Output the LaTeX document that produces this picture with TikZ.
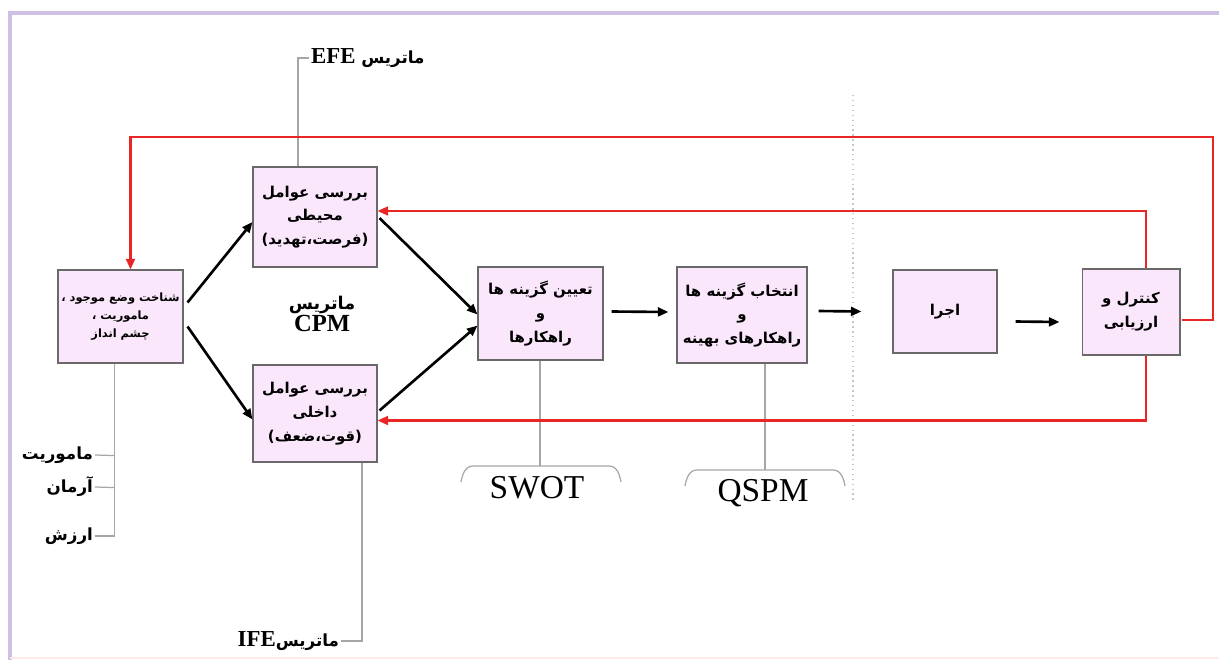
\documentclass[tikz,border=0pt]{standalone}
\usepackage{fontspec}
\setmainfont{Liberation Serif}
\newfontfamily\farsi[Script=Arabic]{DejaVu Sans}
\TeXXeTstate=1
\usetikzlibrary{positioning, arrows.meta, calc}

\definecolor{boxfill}{RGB}{251,231,251}
\definecolor{boxline}{RGB}{105,105,105}
\definecolor{loopred}{RGB}{232,38,38}
\definecolor{framelav}{RGB}{205,192,228}
\newcommand{\fa}[1]{\beginR #1\endR}

\begin{document}
\begin{tikzpicture}[
  x=0.02cm, y=-0.02cm,
  >=Triangle,
  box/.style={draw=boxline, fill=boxfill, line width=0.6pt, align=center,
    inner sep=1pt, font=\farsi\bfseries\fontsize{8.5}{13.5}\selectfont},
  arr/.style={-{Triangle[length=6pt,width=5pt]}, line width=1.5pt},
  redarr/.style={-{Triangle[length=6pt,width=5pt]}, line width=1.3pt, draw=loopred},
  link/.style={draw=gray!70, line width=0.7pt},
  lbl/.style={font=\farsi\bfseries\fontsize{9.5}{11}\selectfont, inner sep=1pt},
  tool/.style={font=\fontsize{19}{20}\selectfont, inner sep=0pt},
]
\useasboundingbox (0,0) rectangle (1219,660);

% === frame ===
\draw[framelav, line width=1.8pt] (10,660) -- (10,13) -- (1219,13);
\draw[pink!35, line width=1.5pt] (10,658) -- (1219,658);

% === boxes ===
\node[box, minimum width=2.5cm, minimum height=1.86cm,
  font=\farsi\bfseries\fontsize{6.5}{10.5}\selectfont] (now) at (120.5,316.5)
  {\fa{شناخت وضع موجود ،}\\ \fa{ماموریت ،}\\ \fa{چشم انداز}};
\node[box, minimum width=2.48cm, minimum height=2cm] (ext) at (315,217)
  {\fa{بررسی عوامل}\\ \fa{محیطی}\\ \fa{(فرصت،تهدید)}};
\node[box, minimum width=2.48cm, minimum height=1.94cm] (int) at (315,413.5)
  {\fa{بررسی عوامل}\\ \fa{داخلی}\\ \fa{(قوت،ضعف)}};
\node[box, minimum width=2.5cm, minimum height=1.86cm] (opts) at (540.5,313.5)
  {\fa{تعیین گزینه ها}\\ \fa{و}\\ \fa{راهکارها}};
\node[box, minimum width=2.6cm, minimum height=1.92cm] (pick) at (742,315)
  {\fa{انتخاب گزینه ها}\\ \fa{و}\\ \fa{راهکارهای بهینه}};
\node[box, minimum width=2.08cm, minimum height=1.66cm] (run) at (945,311.5)
  {\fa{اجرا}};
\node[box, minimum width=1.96cm, minimum height=1.72cm] (eval) at (1131,312)
  {\fa{کنترل و}\\ \fa{ارزیابی}};

% === matrix labels ===
\node[align=center, inner sep=0pt] (cpm) at (322,314)
  {{\farsi\bfseries\fontsize{10}{11}\selectfont\fa{ماتریس}}\\[1pt]
   {\bfseries\fontsize{14}{15}\selectfont CPM}};
\node[lbl, anchor=west] (efe) at (309,58)
  {\fa{ماتریس {\bfseries\rmfamily\fontsize{13}{14}\selectfont\beginL EFE\endL}}};
\node[lbl, anchor=east] (ife) at (341,641)
  {\fa{ماتریس{\bfseries\rmfamily\fontsize{13}{14}\selectfont\beginL IFE\endL}}};

\draw[link] ($(ext.north)+(-17,0)$) |- (efe.west);
\draw[link] ($(int.south)+(47,0)$) |- (ife.east);

% === mission, vision, values ===
\node[lbl, anchor=east] (miss) at (95,455) {\fa{ماموریت}};
\node[lbl, anchor=east] (vis) at (95,487) {\fa{آرمان}};
\node[lbl, anchor=east] (val) at (95,536) {\fa{ارزش}};
\draw[link] ($(now.south)+(-6,0)$) |- (val.east);
\draw[link] (miss.east) -- ($(now.south)+(-6,92)$);
\draw[link] (vis.east) -- ($(now.south)+(-6,124)$);

% === SWOT / QSPM ===
\node[tool] (swot) at (537,488) {SWOT};
\node[tool] (qspm) at (763,493) {QSPM};
\coordinate (swotTop) at (540,466);
\coordinate (qspmTop) at (765,470);
\draw[link] (opts.south -| swotTop) -- (swotTop);
\draw[link] (pick.south -| qspmTop) -- (qspmTop);
\draw[link] (461,482) to[out=80,in=180] (473,466) -- (609,466)
  to[out=0,in=100] (621,482);
\draw[link] (685,486) to[out=80,in=180] (697,470) -- (833,470)
  to[out=0,in=100] (845,486);

% divider
\draw[gray!45, dotted, line width=0.8pt] (853,95) -- (853,500);

% === main flow ===
\draw[arr] ($(now.east)+(4,-14)$) -- ($(ext.west)+(0,5)$);
\draw[arr] ($(now.east)+(4,10)$) -- ($(int.west)+(0,6)$);
\draw[arr] ($(ext.east)+(2,1)$) -- ($(opts.west)+(0,1)$);
\draw[arr] ($(int.east)+(2,-3)$) -- ($(opts.west)+(0,12)$);
\draw[arr] ($(opts.east)+(8,-2)$) -- ($(pick.west)+(-8,-3)$);
\draw[arr] ($(pick.east)+(11,-4)$) -- ($(run.west)+(-31,0)$);
\draw[arr] ($(run.east)+(18,10)$) -- ($(eval.west)+(-22,10)$);

% === feedback loops ===
\draw[redarr] ($(eval.east)+(1,8)$) -| (1213,137) -| ($(now.north)+(10,0)$);
\draw[redarr] ($(eval.north)+(15,0)$) |- ($(ext.east)+(0,-6)$);
\draw[redarr] ($(eval.south)+(15,0)$) |- ($(int.east)+(0,7)$);

\end{tikzpicture}
\end{document}
